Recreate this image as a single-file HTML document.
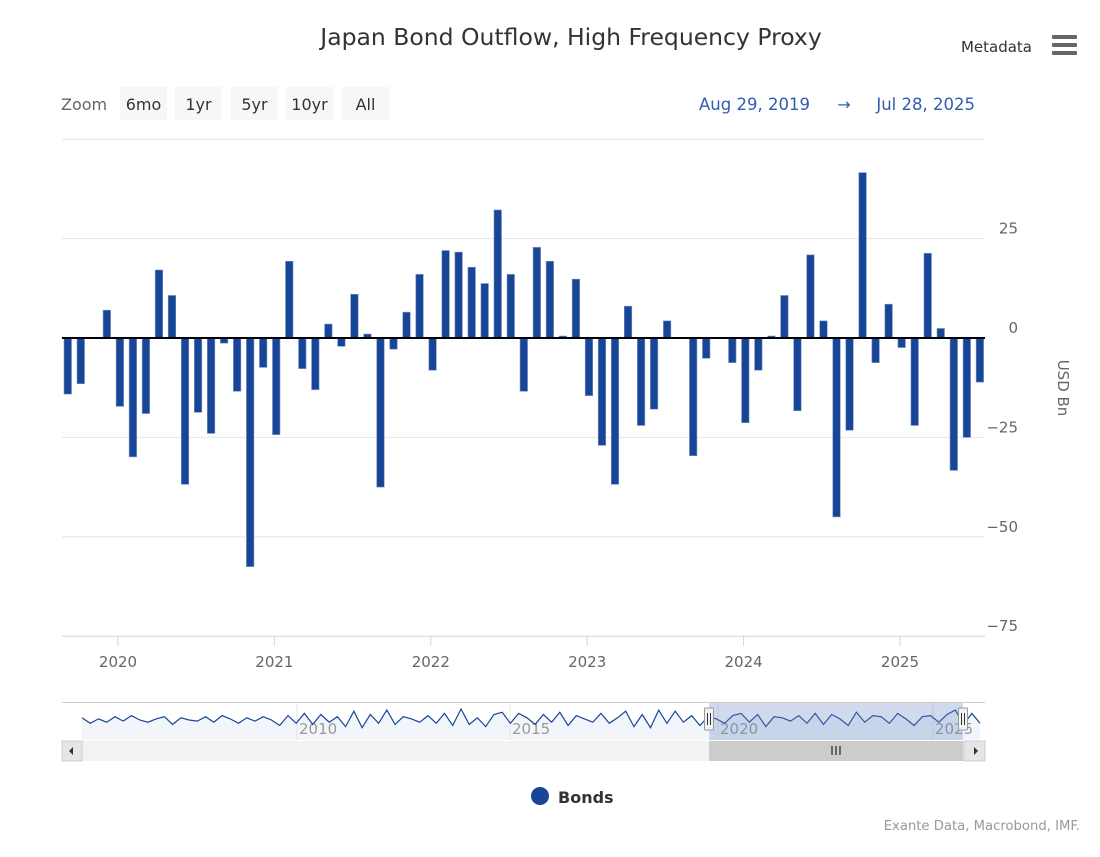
<!DOCTYPE html>
<html><head><meta charset="utf-8"><style>
body{margin:0;background:#fff;font-family:"DejaVu Sans","Liberation Sans",sans-serif;}
svg text{font-family:"DejaVu Sans","Liberation Sans",sans-serif;}
</style></head><body>
<svg id="c" width="1100" height="853" xmlns="http://www.w3.org/2000/svg">
<text x="571" y="45" text-anchor="middle" font-size="23.5" fill="#333">Japan Bond Outflow, High Frequency Proxy</text>
<g>
<text x="1032" y="52" text-anchor="end" font-size="15" fill="#333">Metadata</text>
<rect x="1052" y="35" width="25" height="4" rx="1" fill="#666"/>
<rect x="1052" y="43" width="25" height="4" rx="1" fill="#666"/>
<rect x="1052" y="51" width="25" height="4" rx="1" fill="#666"/>
</g>
<text x="61" y="110" font-size="16" fill="#666">Zoom</text>
<g><rect x="120" y="87" width="47" height="33" fill="#f7f7f7"/><text x="143.5" y="110" text-anchor="middle" font-size="16" fill="#333">6mo</text></g>
<g><rect x="175" y="87" width="47" height="33" fill="#f7f7f7"/><text x="198.5" y="110" text-anchor="middle" font-size="16" fill="#333">1yr</text></g>
<g><rect x="231" y="87" width="47" height="33" fill="#f7f7f7"/><text x="254.5" y="110" text-anchor="middle" font-size="16" fill="#333">5yr</text></g>
<g><rect x="286" y="87" width="47" height="33" fill="#f7f7f7"/><text x="309.5" y="110" text-anchor="middle" font-size="16" fill="#333">10yr</text></g>
<g><rect x="342" y="87" width="47" height="33" fill="#f7f7f7"/><text x="365.5" y="110" text-anchor="middle" font-size="16" fill="#333">All</text></g>
<g>
<text x="699" y="110" font-size="16.5" fill="#335cad">Aug 29, 2019</text>
<text x="844" y="110" text-anchor="middle" font-size="16" fill="#335cad">→</text>
<text x="975" y="110" text-anchor="end" font-size="16.5" fill="#335cad">Jul 28, 2025</text>
</g>
<g id="grid"></g><g id="bars"></g><g id="axes"></g><g id="nav"></g>
<text transform="translate(1058,388) rotate(90)" text-anchor="middle" font-size="15" fill="#666">USD Bn</text>
<circle cx="540" cy="796" r="9" fill="#174597"/>
<text x="558" y="803" font-size="16" font-weight="bold" fill="#333">Bonds</text>
<text x="1080" y="830" text-anchor="end" font-size="13.2" fill="#999">Exante Data, Macrobond, IMF.</text>
</svg>
<script>
const values=[-14.1,-11.5,0,7,-17.2,-29.9,-19,17.1,10.7,-36.8,-18.7,-24,-1.3,-13.4,-57.5,-7.4,-24.3,19.3,-7.7,-13,3.5,-2.1,11,1,
-37.5,-2.8,6.5,16,-8.1,22,21.6,17.8,13.7,32.2,16,-13.4,22.8,19.3,0.5,14.8,-14.5,-27,-36.8,8,-22,-17.9,4.3,
0,-29.6,-5.1,0,-6.2,-21.3,-8.1,0.5,10.7,-18.3,20.9,4.3,-45,-23.2,41.6,-6.2,8.5,-2.4,-22,21.3,2.4,-33.3,-25,-11.1];
const yTicks=[50,25,0,-25,-50,-75];
const yLabels=["","25","0","−25","−50","−75"];
const xYears=[2020,2021,2022,2023,2024,2025];
const navValues=[0.2,-0.3,0.1,-0.2,0.3,-0.1,0.4,0,-0.2,0.1,0.3,-0.4,0.2,0,-0.1,0.3,-0.2,0.4,0.1,-0.3,0.2,-0.1,0.3,0,-0.5,0.4,-0.3,0.6,-0.4,0.5,-0.2,0.3,-0.6,0.8,-0.7,0.5,-0.3,0.9,-0.4,0.3,0.1,-0.2,0.4,-0.3,0.6,-0.5,1,-0.4,0.2,-0.6,0.5,0.7,-0.3,0.6,0.2,-0.4,0.5,-0.2,0.7,-0.5,0.4,0.1,-0.2,0.6,-0.3,0.2,0.8,-0.6,0.5,-0.7,0.9,-0.3,0.8,-0.2,0.4,-0.5,0.3,0.1,-0.3,0.4,0.6,-0.2,0.5,-0.6,0.3,0.2,-0.1,0.4,-0.3,0.6,-0.4,0.5,0.1,-0.5,0.7,-0.2,0.4,0.3,-0.3,0.6,0.1,-0.5,0.3,0.4,-0.2,0.5,0.9,-0.4,0.6,-0.3];
const NS="http://www.w3.org/2000/svg";
function mk(p,t,a){const e=document.createElementNS(NS,t);for(const k in a)e.setAttribute(k,a[k]);p.appendChild(e);return e;}
const y=v=>338-v*3.976;
const xm=i=>67.5+i*13.03;
const xy=yr=>118+(yr-2020)*156.4;
const grid=document.getElementById('grid'),bars=document.getElementById('bars'),axes=document.getElementById('axes'),nav=document.getElementById('nav');
yTicks.forEach((t,k)=>{
 const l=mk(grid,'line',{x1:62,x2:985,y1:y(t),y2:y(t),stroke:t==-75?'#ccd6eb':'#e6e6e6','stroke-width':1});
 
 
 if(yLabels[k]){const tx=mk(axes,'text',{x:1018,y:y(t)-5,'text-anchor':'end','font-size':15,fill:'#666'});tx.textContent=yLabels[k];
 
 }
});
values.forEach((v,i)=>{
 const r=mk(bars,'rect',{x:xm(i)-3.5,y:Math.min(y(v),338),width:7.5,height:Math.max(Math.abs(y(v)-338),0.5),fill:'#174597',stroke:'#7a93c4','stroke-width':0.6});
 
 
});
const zl=mk(axes,'line',{x1:62,x2:985,y1:338,y2:338,stroke:'#000','stroke-width':2});


xYears.forEach(yr=>{
 const tk=mk(axes,'line',{x1:xy(yr),x2:xy(yr),y1:636,y2:646,stroke:'#ccd6eb'});
 
 
 const tx=mk(axes,'text',{x:xy(yr),y:667,'text-anchor':'middle','font-size':15,fill:'#666'});tx.textContent=yr;
 
 
});
const nb=mk(nav,'line',{x1:62,x2:985,y1:702.5,y2:702.5,stroke:'#ccc'});


const nx=i=>82+i*(898/(navValues.length-1));const ny=v=>720-v*11;
let d='M'+nx(0)+','+ny(navValues[0]);navValues.forEach((v,i)=>{d+=' L'+nx(i).toFixed(1)+','+ny(v).toFixed(1);});
const na=mk(nav,'path',{d:d+' L980,740 L82,740 Z',fill:'#f2f6fb'});


[['2010',329],['2015',542],['2020',750],['2025',965]].forEach(([t,x])=>{
 const gl=mk(nav,'line',{x1:x-32,x2:x-32,y1:703,y2:740,stroke:'#e6e6e6'});
 
 
 const tx=mk(nav,'text',{x:x-30,y:734,'font-size':15,fill:'#999'});tx.textContent=t;
 
 
});
const nl=mk(nav,'path',{d:d,fill:'none',stroke:'#174597','stroke-width':1.2});


const sel=mk(nav,'rect',{x:709,y:703,width:254,height:37,fill:'rgba(102,133,194,0.3)'});


[709,963].forEach(x=>{const h=mk(nav,'rect',{x:x-4.5,y:708,width:9,height:22,rx:1,fill:'#f2f2f2',stroke:'#999'});
 
 
 const l1=mk(nav,'path',{d:`M${x-1.5},713V725M${x+1.5},713V725`,stroke:'#333'});
 
 });
const sb=mk(nav,'rect',{x:62,y:741,width:923,height:20,fill:'#f2f2f2'});


const th=mk(nav,'rect',{x:709,y:741,width:254,height:20,fill:'#cccccc'});


const gr=mk(nav,'path',{d:'M832,746V755M836,746V755M840,746V755',stroke:'#333','stroke-width':1.3});


const lb=mk(nav,'rect',{x:62,y:741,width:20,height:20,fill:'#e6e6e6',stroke:'#ccc'});


const la=mk(nav,'path',{d:'M69,751L73,747V755Z',fill:'#333'});


const rb=mk(nav,'rect',{x:964,y:741,width:21,height:20,fill:'#e6e6e6',stroke:'#ccc'});


const ra=mk(nav,'path',{d:'M978,751L974,747V755Z',fill:'#333'});


</script>
</body></html>
